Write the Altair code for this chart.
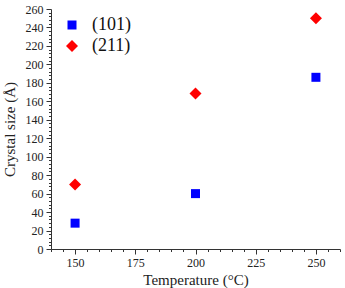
import altair as alt
import pandas as pd

temps = [150, 200, 250]
size_101 = [28, 60, 186]
size_211 = [70, 168.5, 250]
series = ["(101)", "(211)"]

rows = []
for t, v in zip(temps, size_101):
    rows.append({"T": t, "size": v, "plane": series[0]})
for t, v in zip(temps, size_211):
    rows.append({"T": t, "size": v, "plane": series[1]})
df = pd.DataFrame(rows)

font = "Liberation Serif"
xticks = list(range(140, 261, 5))
yticks = list(range(0, 261, 4))

chart = alt.Chart(df).mark_point(filled=True, opacity=1).encode(
    x=alt.X("T:Q", scale=alt.Scale(domain=[140, 260], nice=False, zero=False),
            axis=alt.Axis(title="Temperature (°C)", values=xticks,
                          labelExpr="datum.value % 25 === 0 ? datum.label : ''",
                          tickSize={"condition": {"test": "datum.value % 25 === 0", "value": 5}, "value": 2.5},
                          grid=False, labelFlush=False, labelOverlap=False)),
    y=alt.Y("size:Q", scale=alt.Scale(domain=[0, 260], nice=False),
            axis=alt.Axis(title="Crystal size (Å)", values=yticks,
                          labelExpr="datum.value % 20 === 0 ? datum.label : ''",
                          tickSize={"condition": {"test": "datum.value % 20 === 0", "value": 5}, "value": 2.5},
                          grid=False, labelOverlap=False, labelFlush=False)),
    color=alt.Color("plane:N", scale=alt.Scale(domain=series, range=["#0000ff", "#ff0000"]),
                    legend=alt.Legend(title=None, orient="none", legendX=12, legendY=7,
                                      labelFontSize=18, labelFont=font, labelColor="#111",
                                      rowPadding=3, labelOffset=11, padding=0)),
    shape=alt.Shape("plane:N", scale=alt.Scale(domain=series, range=["square", "diamond"])),
    size=alt.Size("plane:N", scale=alt.Scale(domain=series, range=[81, 144]), legend=None),
).properties(
    width=289, height=240,
    autosize="none",
    padding={"left": 51, "top": 9, "right": 5, "bottom": 39},
).configure_view(stroke=None).configure_axis(
    labelFont=font, titleFont=font, labelFontSize=12, titleFontSize=15,
    titleFontWeight="normal", labelColor="#222", titleColor="#222",
    domainColor="#333", tickColor="#333", labelPadding=3,
).configure_legend(labelFont=font, labelFontSize=18
).configure_axisY(titlePadding=8).configure_axisX(titlePadding=4)

chart.save("out.html", embed_options={"renderer": "svg", "actions": False})
